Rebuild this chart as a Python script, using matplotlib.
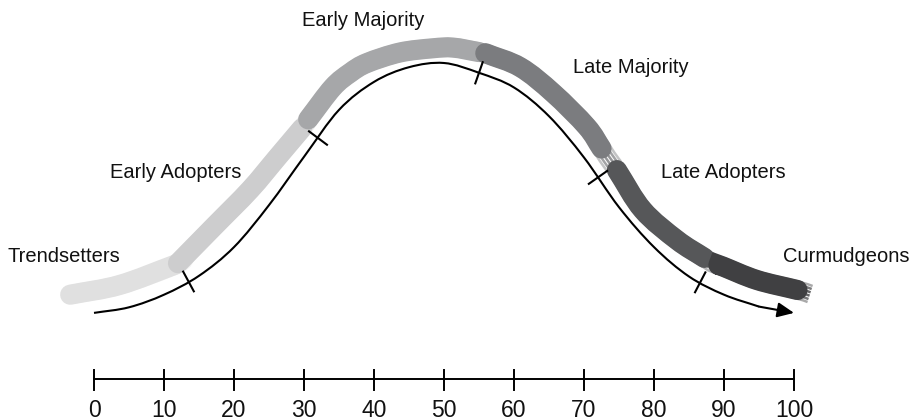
import numpy as np
import matplotlib
matplotlib.use("Agg")
import matplotlib.pyplot as plt
from matplotlib.path import Path
from matplotlib.patches import PathPatch

plt.rcParams['font.family'] = ['Liberation Sans Narrow', 'Liberation Sans', 'DejaVu Sans']

# adoption curve (thin black line)
curve_x = [0, 5, 10, 15, 20, 25, 30, 35, 40, 45, 50, 55, 60, 65, 70, 75, 80, 85, 90, 95, 100]
curve_y = [9.3, 10.1, 11.9, 14.6, 18.7, 24.7, 31.6, 38.3, 42.3, 44.4, 45.0, 43.6, 41.5, 37.4,
           31.5, 24.4, 18.7, 14.5, 11.9, 10.2, 9.3]

# brush band above the curve
band_x = [-3.4, 3.7, 11.9, 17.1, 22.3, 26.1, 29.9, 30.9, 34.1, 36.6, 39.0, 43.7, 48.4, 51.3,
          55.9, 60.9, 65.6, 70.4, 73.3, 74.7, 78.4, 83.3, 87.6, 88.4, 89.9, 94.7, 100.4, 102.3]
band_y = [11.9, 13.3, 16.3, 21.6, 26.9, 31.4, 35.9, 37.4, 41.5, 43.6, 45.0, 46.5, 47.1, 47.2,
          46.4, 44.4, 40.7, 35.9, 31.6, 29.7, 24.0, 19.7, 16.9, 16.4, 15.9, 14.0, 12.6, 12.0]

groups = ["Trendsetters", "Early Adopters", "Early Majority", "Late Majority", "Late Adopters", "Curmudgeons"]
seg_start = [-3.4, 12.0, 30.6, 55.9, 74.7, 89.2]
seg_end = [13.5, 31.5, 56.8, 74.3, 89.0, 102.3]
seg_colors = ["#e0e0e0", "#cdcdce", "#a6a7a9", "#7b7c7f", "#565759", "#404042"]

# boundaries marked on the curve
bounds = [13.5, 32, 55, 72, 86.6]

axis_ticks = [0, 10, 20, 30, 40, 50, 60, 70, 80, 90, 100]

label_pos = [(-4.3, 17.3), (11.6, 29.4), (38.4, 51.1), (76.7, 44.4), (89.9, 29.4), (107.4, 17.3)]


def smooth_path(xs, ys):
    # Catmull-Rom through the points, drawn as cubic Bezier pieces
    p = np.column_stack([xs, ys])
    ext = np.vstack([2 * p[0] - p[1], p, 2 * p[-1] - p[-2]])
    verts = [p[0]]
    codes = [Path.MOVETO]
    for i in range(1, len(ext) - 2):
        c1 = ext[i] + (ext[i + 1] - ext[i - 1]) / 6
        c2 = ext[i + 1] - (ext[i + 2] - ext[i]) / 6
        verts += [c1, c2, ext[i + 1]]
        codes += [Path.CURVE4] * 3
    return Path(verts, codes)


fig = plt.figure(figsize=(9.13, 4.2), dpi=100)
ax = fig.add_axes([0, 0, 1, 1])
ax.set_xlim(-94 / 7, (913 - 94) / 7)
ax.set_ylim(-6, 54)
ax.axis('off')

bx = np.array(band_x)
by = np.array(band_y)

# brush segments
for s, e, c in zip(seg_start, seg_end, seg_colors):
    inside = (bx > s + 0.3) & (bx < e - 0.3)
    xs = np.concatenate([[s], bx[inside], [e]])
    ys = np.concatenate([[np.interp(s, bx, by)], by[inside], [np.interp(e, bx, by)]])
    d = np.gradient(xs), np.gradient(ys)
    n = np.hypot(d[0], d[1])
    nx, ny = -d[1] / n, d[0] / n
    # dry-brush streaks at the tail
    for off, a in zip([-1.2, -0.75, -0.25, 0.25, 0.75, 1.2], [0.45, 0.7, 0.8, 0.8, 0.7, 0.45]):
        ax.add_patch(PathPatch(smooth_path(xs + nx * off, ys + ny * off), fill=False,
                               edgecolor=c, lw=1.8, alpha=a, capstyle='butt', zorder=2))
    main_end = e - 1.8
    keep = xs < main_end - 0.3
    mx = np.concatenate([xs[keep], [main_end]])
    my = np.concatenate([ys[keep], [np.interp(main_end, bx, by)]])
    ax.add_patch(PathPatch(smooth_path(mx, my), fill=False, edgecolor=c, lw=14.5,
                           capstyle='round', zorder=3))

# black curve with arrow
cx = np.array(curve_x, dtype=float)
cy = np.array(curve_y, dtype=float)
ax.add_patch(PathPatch(smooth_path(cx[:-1], cy[:-1]), fill=False, edgecolor='black',
                       lw=1.5, zorder=4))
ax.annotate("", xy=(cx[-1], cy[-1]), xytext=(cx[-2], cy[-2]),
            arrowprops=dict(arrowstyle="-|>,head_length=1.0,head_width=0.45", lw=1.5,
                            color='black', shrinkA=0, shrinkB=0, mutation_scale=10), zorder=4)

# boundary ticks across the curve
for b in bounds:
    y0 = np.interp(b, cx, cy)
    slope = (np.interp(b + 0.5, cx, cy) - np.interp(b - 0.5, cx, cy)) / 1.0
    t = np.array([1.0, slope]) / np.hypot(1.0, slope)
    nrm = np.array([-t[1], t[0]])
    h = 1.6
    ax.plot([b - nrm[0] * h, b + nrm[0] * h], [y0 - nrm[1] * h, y0 + nrm[1] * h],
            color='black', lw=1.5, zorder=5)

# group labels
for name, (lx, ly) in zip(groups, label_pos):
    ax.text(lx, ly, name, fontsize=14.5, ha='center', va='center', color='#111111')

# percentage axis
ax.plot([axis_ticks[0], axis_ticks[-1]], [-0.15, -0.15], color='black', lw=1.4)
for t in axis_ticks:
    ax.plot([t, t], [1.15, -1.7], color='black', lw=1.4)
    ax.text(t, -4.6, str(t), fontsize=16.5, ha='center', va='center', color='#111111')

fig.savefig("out.png", dpi=100)
